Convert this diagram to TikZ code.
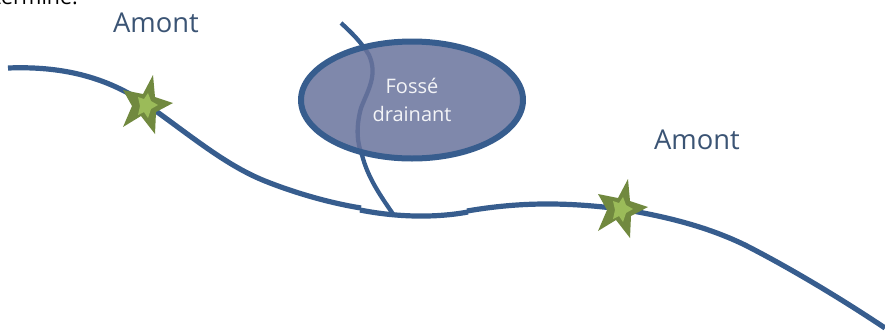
\documentclass[tikz,border=0pt]{standalone}
\usepackage{fontspec}
\setmainfont{Open Sans}
\usepackage{tikz}
\usetikzlibrary{positioning}
\usetikzlibrary{shapes.geometric}
\definecolor{river}{HTML}{375D8E}
\definecolor{amonttext}{HTML}{3B5474}
\definecolor{fossefill}{HTML}{69739C}
\definecolor{starout}{HTML}{71893F}
\definecolor{starin}{HTML}{9BBB59}
\begin{document}
\begin{tikzpicture}[x=0.75pt,y=-0.75pt,
		water/.style={draw=river,line width=3.9pt},
		amont/.style={text=amonttext,font=\fontsize{20.5}{24}\selectfont,inner sep=0pt},
		fosse/.style={ellipse,draw=river,line width=4.5pt,fill=fossefill,fill opacity=.85,draw opacity=1,text opacity=1,text=white!92!fossefill,
			minimum width=222*0.75pt,minimum height=117*0.75pt,inner sep=0pt,align=center,font=\fontsize{15}{21}\selectfont},
		staroutline/.pic={
			\fill[starout] (7,-30) -- (9,-8) -- (27,-2) -- (10,7) -- (9,29) -- (-5,11) -- (-23,22) -- (-14,1) -- (-23,-15) -- (-3,-11) -- cycle;
			\fill[starin] (2,-12) -- (5,-4) -- (12,0) -- (5,4) -- (2,13) -- (-2,7) -- (-8,10) -- (-6,1) -- (-8,-8) -- (-2,-6) -- cycle;
		}]
		\useasboundingbox (0,0) rectangle (885,333);
		\clip (0,0) rectangle (885,333);
		
		% cropped line left over from the page above
		\node[anchor=base east,inner sep=0pt,font=\fontsize{16}{18}\selectfont] (cut) at (78,4) {termine:};
		
		\node[amont] (amont1) at (156,23) {Amont};
		\node[amont] (amont2) at (697,140) {Amont};
		
		% river
		\draw[water] (8,68) .. controls (60,66) and (105,76) .. (146,104)
			.. controls (190,135) and (225,165) .. (265,181)
			.. controls (295,193) and (330,203) .. (361,208);
		\draw[water] (360,210) .. controls (390,216) and (430,219) .. (468,212);
		\draw[water] (467,211) .. controls (520,202) and (565,202) .. (621,209)
			.. controls (670,217) and (710,228) .. (745,245)
			.. controls (790,268) and (840,298) .. (885,328);
		
		% ditch
		\draw[water,line width=3.2pt] (341,23) .. controls (352,33) and (362,43) .. (369,55)
			.. controls (378,75) and (368,90) .. (361,108)
			.. controls (355,130) and (358,145) .. (362,155)
			.. controls (368,178) and (380,195) .. (393,214);
		
		\node[fosse] (fosse) at (412,100) {Fossé\\drainant};
		
		\pic at (146,105) {staroutline};
		\pic at (621,209) {staroutline};
\end{tikzpicture}
\end{document}
